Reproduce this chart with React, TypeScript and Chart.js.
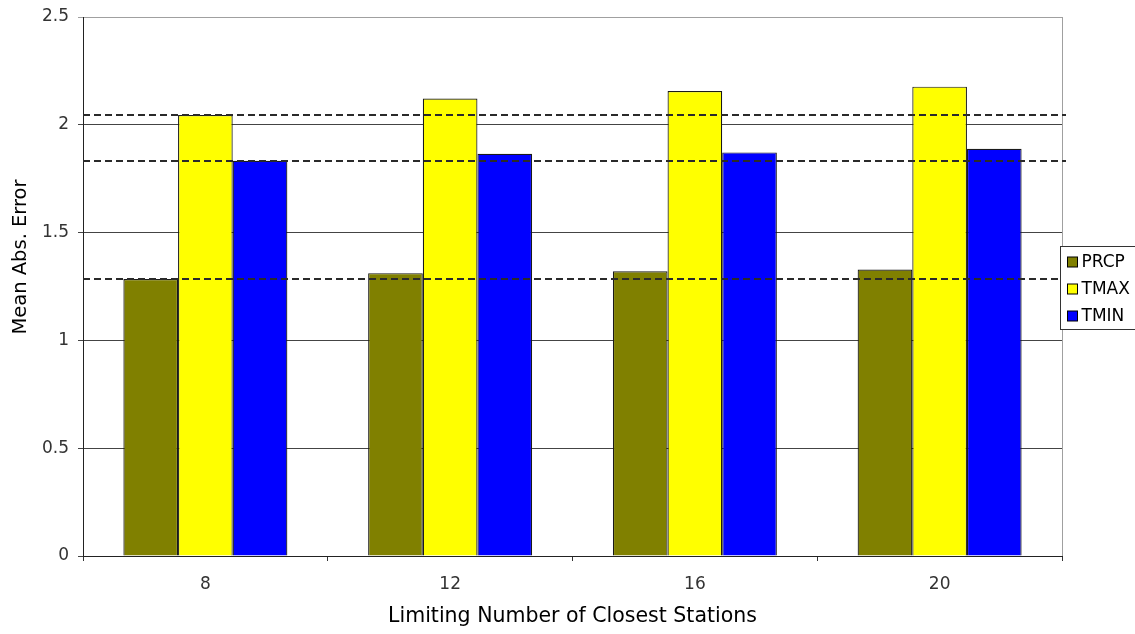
import React, { useEffect, useRef } from "react";
import { Chart, registerables } from "chart.js";

Chart.register(...registerables);

const categories = ["8", "12", "16", "20"];
const seriesNames = ["PRCP", "TMAX", "TMIN"];
const prcpValues = [1.285, 1.312, 1.321, 1.329];
const tmaxValues = [2.045, 2.122, 2.157, 2.177];
const tminValues = [1.833, 1.866, 1.872, 1.889];
const seriesColors = ["#808000", "#FFFF00", "#0000FF"];
const referenceLines = [2.045, 1.833, 1.285];
const yTicks = [0, 0.5, 1, 1.5, 2, 2.5];
const yAxisTitle = "Mean Abs. Error";
const xAxisTitle = "Limiting Number of Closest Stations";

const FONT = "'DejaVu Sans', Verdana, sans-serif";

const overlayPlugin = {
  id: "overlay",
  afterDatasetsDraw(chart: any) {
    const { ctx, chartArea, scales } = chart;
    const y = scales.y;
    ctx.save();
    ctx.strokeStyle = "#a0a0a0";
    ctx.lineWidth = 1;
    ctx.beginPath();
    ctx.moveTo(Math.round(chartArea.right) + 0.5, chartArea.top);
    ctx.lineTo(Math.round(chartArea.right) + 0.5, chartArea.bottom);
    ctx.stroke();
    ctx.strokeStyle = "#2a2a2a";
    ctx.lineWidth = 2;
    ctx.setLineDash([7, 4]);
    referenceLines.forEach((v) => {
      const py = Math.round(y.getPixelForValue(v));
      ctx.beginPath();
      ctx.moveTo(chartArea.left, py);
      ctx.lineTo(chartArea.right + 4, py);
      ctx.stroke();
    });
    ctx.setLineDash([]);
    ctx.restore();
  },
  afterDraw(chart: any) {
    const { ctx, chartArea } = chart;
    ctx.save();
    // y axis title
    ctx.save();
    ctx.translate(21, 257);
    ctx.rotate(-Math.PI / 2);
    ctx.font = `19.5px ${FONT}`;
    ctx.fillStyle = "#000";
    ctx.textAlign = "center";
    ctx.textBaseline = "middle";
    ctx.fillText(yAxisTitle, 0, 0);
    ctx.restore();
    // legend
    const bx = Math.round(chartArea.right) - 1.5;
    const by = 246.5;
    const bw = 90;
    const bh = 83;
    ctx.fillStyle = "#ffffff";
    ctx.fillRect(bx, by, bw, bh);
    ctx.strokeStyle = "#333";
    ctx.lineWidth = 1;
    ctx.strokeRect(bx, by, bw, bh);
    ctx.font = `17px ${FONT}`;
    ctx.textBaseline = "middle";
    ctx.textAlign = "left";
    seriesNames.forEach((name, i) => {
      const cy = 262 + i * 27;
      ctx.fillStyle = seriesColors[i];
      ctx.fillRect(bx + 7, cy - 5, 10, 10);
      ctx.strokeStyle = "#000";
      ctx.strokeRect(bx + 7, cy - 5, 10, 10);
      ctx.fillStyle = "#000";
      ctx.fillText(name, bx + 21, cy + 1);
    });
    ctx.restore();
  },
};

export default function App() {
  const canvasRef = useRef<HTMLCanvasElement | null>(null);

  useEffect(() => {
    if (!canvasRef.current) return;
    const values = [prcpValues, tmaxValues, tminValues];
    const chart = new Chart(canvasRef.current, {
      type: "bar",
      data: {
        labels: categories,
        datasets: seriesNames.map((name, i) => ({
          label: name,
          data: values[i],
          backgroundColor: seriesColors[i],
          borderColor: "#1a1a1a",
          borderWidth: 1.2,
          categoryPercentage: 0.67,
          barPercentage: 1.0,
        })),
      },
      options: {
        animation: false,
        responsive: false,
        maintainAspectRatio: false,
        layout: { padding: { top: 17, right: 73, left: 0, bottom: 0 } },
        plugins: {
          legend: { display: false },
          tooltip: { enabled: false },
        },
        scales: {
          x: {
            grid: {
              drawOnChartArea: false,
              drawTicks: true,
              tickLength: 5,
              color: "#333",
              offset: true,
            },
            border: { color: "#222", width: 1 },
            ticks: {
              color: "#333",
              font: { family: FONT, size: 17 },
              padding: 13,
            },
            title: {
              display: true,
              text: xAxisTitle,
              color: "#000",
              font: { family: FONT, size: 20.5 },
              padding: { top: 0, bottom: 5 },
            },
            afterFit: (scale: any) => {
              scale.height = 78;
            },
          },
          y: {
            min: 0,
            max: 2.5,
            afterBuildTicks: (scale: any) => {
              scale.ticks = yTicks.map((v) => ({ value: v }));
            },
            grid: {
              color: (c: any) => (c.tick && c.tick.value === 2.5 ? "#a0a0a0" : "#444"),
              tickLength: 5,
            },
            border: { color: "#222", width: 1 },
            ticks: {
              color: "#333",
              font: { family: FONT, size: 17, lineHeight: 1.0 },
              padding: 9,
              callback: (v: any) => String(v),
            },
            title: { display: false },
            afterFit: (scale: any) => {
              scale.width = 83;
              scale.paddingTop = 0;
            },
          },
        },
      },
      plugins: [overlayPlugin],
    });
    return () => chart.destroy();
  }, []);

  return (
    <div style={{ position: "fixed", left: 0, top: 0, width: 1135, height: 634, background: "#fff" }}>
      <canvas ref={canvasRef} width={1135} height={634} style={{ width: 1135, height: 634 }} />
    </div>
  );
}
